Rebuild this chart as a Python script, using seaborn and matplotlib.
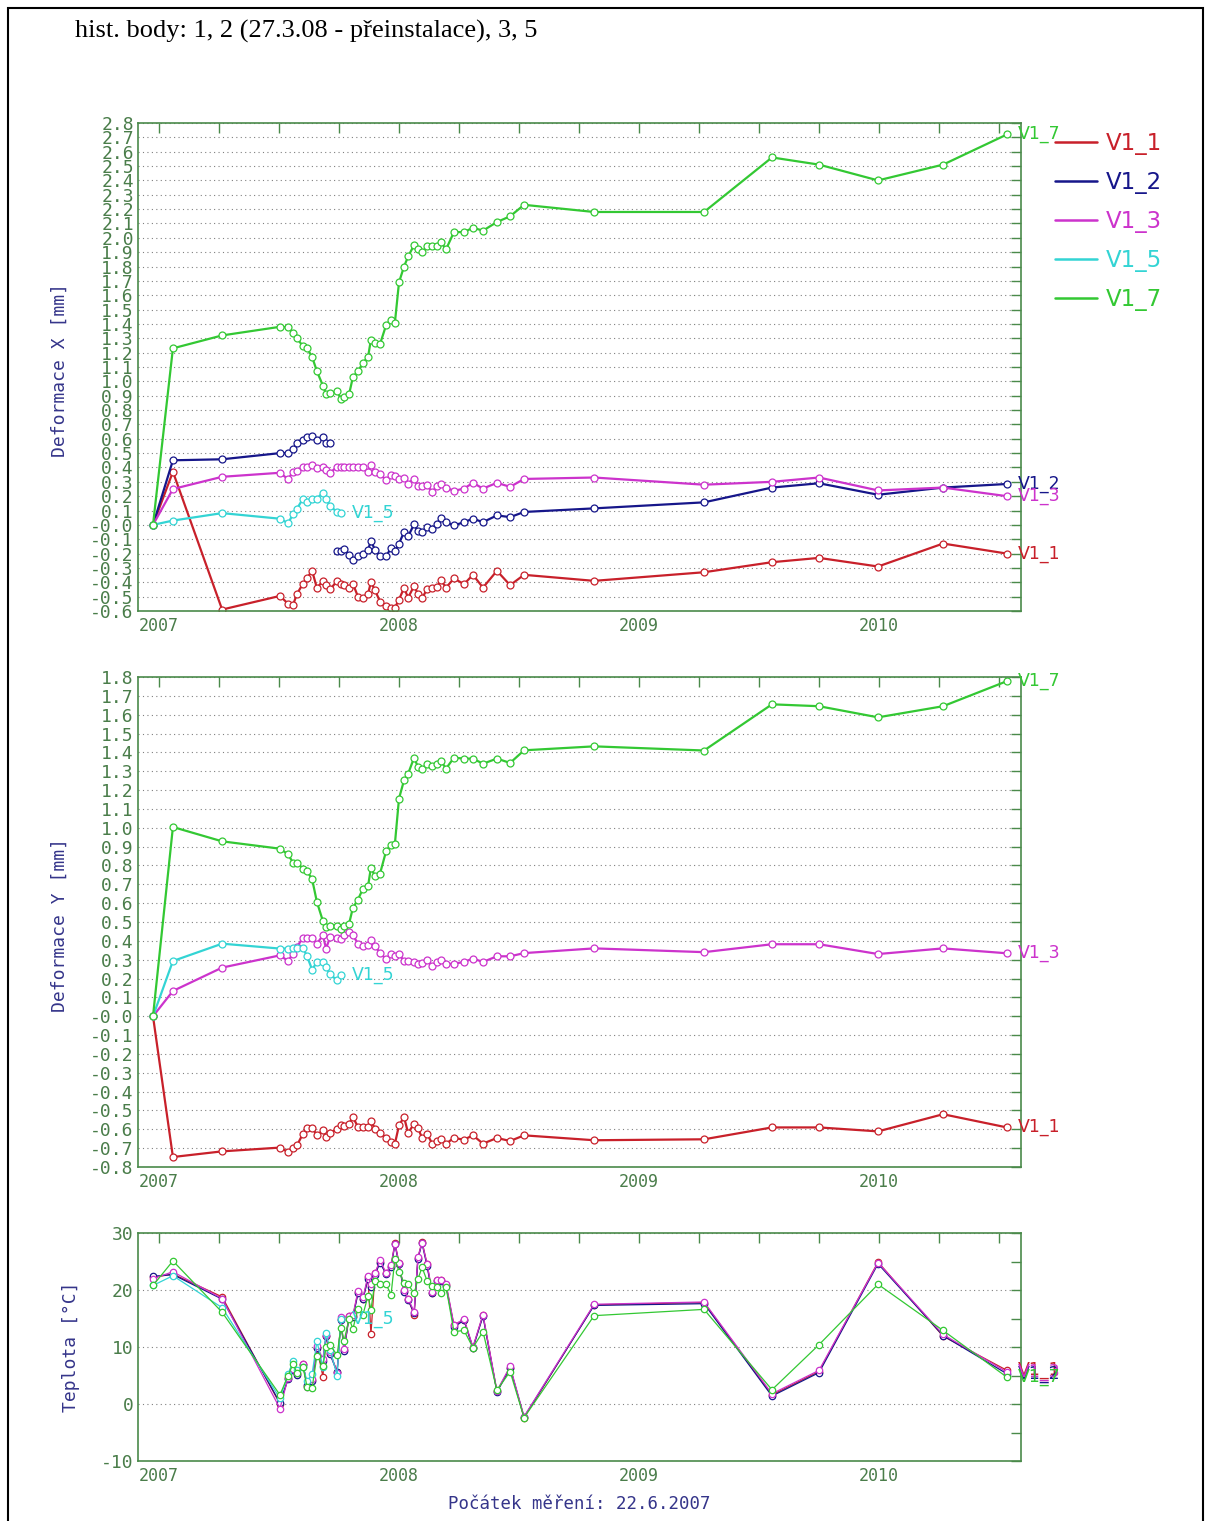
import matplotlib as mpl
mpl.use('Agg')
import matplotlib.pyplot as plt
from matplotlib.lines import Line2D
from matplotlib.patches import Rectangle
from matplotlib.ticker import MultipleLocator, FixedLocator, FuncFormatter
import numpy as np
import pandas as pd
import seaborn as sns

nan = np.nan

# reading times (decimal years on the plot's own axis)
t = [2006.975, 2007.058, 2007.263, 2007.504, 2007.538, 2007.558, 2007.575, 2007.600,
     2007.617, 2007.638, 2007.658, 2007.683, 2007.696, 2007.713, 2007.742, 2007.758,
     2007.771, 2007.792, 2007.808, 2007.829, 2007.850, 2007.871, 2007.883, 2007.900,
     2007.921, 2007.946, 2007.967, 2007.983, 2008.000, 2008.021, 2008.038, 2008.063,
     2008.079, 2008.096, 2008.117, 2008.138, 2008.158, 2008.175, 2008.196, 2008.229,
     2008.271, 2008.308, 2008.350, 2008.408, 2008.463, 2008.521, 2008.813, 2009.271,
     2009.554, 2009.750, 2009.996, 2010.267, 2010.533]

# V1_2 was reinstalled (27.3.08) -> line is broken here
V12_BREAK = 2007.73

# Deformace X [mm]
x_v11 = [0.00, 0.37, -0.59, -0.495, -0.55, -0.56, -0.48, -0.41,
         -0.37, -0.32, -0.44, -0.39, -0.42, -0.45, -0.39, -0.41,
         -0.42, -0.44, -0.41, -0.50, -0.51, -0.48, -0.40, -0.455,
         -0.535, -0.565, -0.577, -0.577, -0.52, -0.44, -0.507, -0.425,
         -0.483, -0.511, -0.448, -0.44, -0.432, -0.385, -0.437, -0.373,
         -0.413, -0.348, -0.437, -0.32, -0.42, -0.348, -0.39, -0.33,
         -0.26, -0.23, -0.29, -0.13, -0.20]
x_v12 = [0.00, 0.45, 0.457, 0.50, 0.50, 0.527, 0.568, 0.59,
         0.61, 0.62, 0.59, 0.61, 0.57, 0.57, -0.18, -0.18,
         -0.17, -0.21, -0.245, -0.22, -0.20, -0.175, -0.11, -0.175,
         -0.22, -0.22, -0.16, -0.18, -0.13, -0.05, -0.08, 0.005,
         -0.044, -0.05, -0.016, -0.027, 0.008, 0.047, 0.019, -0.004,
         0.019, 0.043, 0.019, 0.066, 0.054, 0.09, 0.115, 0.157,
         0.26, 0.29, 0.21, 0.26, 0.285]
x_v13 = [0.00, 0.25, 0.335, 0.363, 0.318, 0.37, 0.377, 0.40,
         0.405, 0.42, 0.393, 0.405, 0.382, 0.363, 0.405, 0.405,
         0.405, 0.405, 0.40, 0.405, 0.40, 0.37, 0.417, 0.37,
         0.356, 0.31, 0.35, 0.34, 0.323, 0.325, 0.288, 0.323,
         0.269, 0.27, 0.276, 0.23, 0.269, 0.288, 0.26, 0.237,
         0.253, 0.293, 0.253, 0.293, 0.265, 0.32, 0.33, 0.28,
         0.30, 0.33, 0.24, 0.26, 0.20]
x_v15 = [0.00, 0.03, 0.082, 0.043, 0.012, 0.073, 0.113, 0.183,
         0.16, 0.183, 0.183, 0.225, 0.183, 0.131, 0.09, 0.085] + [nan] * 37
x_v17 = [0.00, 1.23, 1.32, 1.38, 1.377, 1.335, 1.30, 1.244,
         1.23, 1.17, 1.07, 0.97, 0.91, 0.92, 0.93, 0.88,
         0.89, 0.91, 1.03, 1.07, 1.13, 1.17, 1.29, 1.27,
         1.26, 1.39, 1.43, 1.41, 1.69, 1.80, 1.87, 1.95,
         1.92, 1.90, 1.94, 1.94, 1.94, 1.97, 1.92, 2.04,
         2.04, 2.07, 2.05, 2.11, 2.15, 2.23, 2.18, 2.18,
         2.56, 2.51, 2.40, 2.51, 2.72]

# Deformace Y [mm]
y_v11 = [0.00, -0.747, -0.717, -0.697, -0.72, -0.70, -0.685, -0.623,
         -0.591, -0.591, -0.632, -0.605, -0.641, -0.62, -0.596, -0.579,
         -0.58, -0.57, -0.535, -0.588, -0.588, -0.588, -0.556, -0.596,
         -0.62, -0.644, -0.667, -0.676, -0.579, -0.535, -0.62, -0.57,
         -0.593, -0.646, -0.623, -0.676, -0.664, -0.65, -0.676, -0.646,
         -0.655, -0.632, -0.676, -0.646, -0.662, -0.632, -0.658, -0.653,
         -0.59, -0.59, -0.611, -0.52, -0.59]
y_v13 = [0.00, 0.134, 0.258, 0.323, 0.293, 0.332, 0.37, 0.415,
         0.417, 0.417, 0.385, 0.429, 0.359, 0.42, 0.417, 0.412,
         0.429, 0.447, 0.43, 0.385, 0.373, 0.38, 0.407, 0.371,
         0.337, 0.302, 0.329, 0.318, 0.332, 0.291, 0.291, 0.288,
         0.276, 0.285, 0.297, 0.267, 0.288, 0.297, 0.276, 0.279,
         0.288, 0.306, 0.288, 0.318, 0.318, 0.335, 0.36, 0.34,
         0.382, 0.382, 0.33, 0.36, 0.334]
y_v15 = [0.00, 0.293, 0.385, 0.359, 0.359, 0.364, 0.362, 0.362,
         0.318, 0.247, 0.288, 0.288, 0.261, 0.222, 0.191, 0.217] + [nan] * 37
y_v17 = [0.00, 1.004, 0.928, 0.889, 0.859, 0.815, 0.815, 0.783,
         0.77, 0.727, 0.606, 0.505, 0.473, 0.479, 0.479, 0.465,
         0.479, 0.491, 0.576, 0.619, 0.677, 0.689, 0.789, 0.742,
         0.757, 0.875, 0.907, 0.916, 1.155, 1.252, 1.287, 1.372,
         1.322, 1.31, 1.34, 1.33, 1.34, 1.354, 1.314, 1.372,
         1.367, 1.367, 1.34, 1.367, 1.344, 1.411, 1.432, 1.41,
         1.655, 1.645, 1.586, 1.645, 1.778]

# Teplota [°C]
t_v11 = [22.2, 22.8, 18.8, 0.0, 4.5, 6.0, 5.2, 7.0,
         3.1, 4.2, 9.9, 4.8, 11.9, 8.9, 5.7, 15.0,
         9.5, 15.4, 15.4, 19.6, 18.5, 22.2, 12.2, 22.9,
         25.0, 22.9, 24.2, 28.3, 24.7, 19.8, 18.4, 15.7,
         25.7, 28.5, 24.5, 19.5, 21.7, 21.7, 20.9, 13.8,
         14.8, 9.9, 15.6, 2.2, 6.4, -2.4, 17.4, 17.8,
         1.6, 5.7, 24.9, 11.9, 5.9]
t_v12 = [22.4, 22.7, 18.4, 0.2, 4.4, 5.9, 5.1, 6.9,
         3.3, 4.1, 9.8, 7.6, 11.9, 8.7, 5.6, 14.8,
         9.3, 15.3, 15.2, 19.4, 18.4, 22.0, 20.5, 22.7,
         24.8, 22.8, 24.0, 28.0, 24.5, 19.6, 18.3, 15.9,
         25.5, 28.2, 24.2, 19.4, 21.5, 21.6, 20.7, 13.5,
         14.7, 9.8, 15.4, 2.1, 6.3, -2.3, 17.3, 17.6,
         1.4, 5.5, 24.6, 12.0, 5.3]
t_v13 = [22.0, 23.2, 18.5, -0.8, 4.6, 6.2, 5.4, 7.1,
         3.0, 4.4, 10.2, 7.9, 12.1, 9.1, 5.5, 15.2,
         9.6, 15.5, 15.6, 19.8, 18.7, 22.5, 21.0, 23.0,
         25.2, 23.0, 24.4, 28.1, 24.8, 20.0, 18.5, 16.2,
         25.8, 28.3, 24.6, 19.7, 21.8, 21.8, 21.1, 13.9,
         14.9, 10.0, 15.7, 2.3, 6.6, -2.2, 17.5, 17.9,
         1.8, 5.9, 24.8, 12.2, 5.6]
t_v15 = [20.8, 22.5, 16.9, 1.0, 5.2, 7.5, 6.0, 6.5,
         4.0, 5.3, 11.0, 6.5, 12.5, 9.5, 5.0, 15.0] + [nan] * 37
t_v17 = [20.8, 25.1, 16.1, 1.6, 5.0, 7.0, 5.5, 6.5,
         3.0, 2.8, 8.5, 6.6, 10.0, 10.3, 8.6, 13.4,
         11.0, 15.0, 13.2, 16.7, 15.7, 19.0, 16.5, 21.5,
         21.0, 21.0, 19.2, 25.5, 23.2, 21.3, 21.0, 19.4,
         21.9, 24.0, 21.6, 20.7, 20.5, 19.5, 20.5, 12.7,
         12.9, 9.9, 12.7, 2.4, 5.7, -2.4, 15.5, 16.6,
         2.5, 10.4, 21.0, 12.9, 4.7]

SERIES = ['V1_1', 'V1_2', 'V1_3', 'V1_5', 'V1_7']
COLORS = {'V1_1': '#c8202a', 'V1_2': '#16168a', 'V1_3': '#cc33cc',
          'V1_5': '#33d4d4', 'V1_7': '#33c833'}

FRAME = '#4a8a4a'
TICKTXT = '#4a7d4a'
LABEL = '#35358a'
GRID = '#808080'


def draw_series(ax, name, values, lw, ms, split_at=None):
    c = COLORS[name]
    df = pd.DataFrame({'t': t, 'v': values})
    df['seg'] = 0
    if split_at is not None:
        df['seg'] = (df['t'] > split_at).astype(int)
    df = df.dropna()
    sns.lineplot(data=df, x='t', y='v', units='seg', estimator=None, sort=False,
                 color=c, linewidth=lw, marker='o', markersize=ms,
                 markerfacecolor='white', markeredgecolor=c, markeredgewidth=0.9,
                 legend=False, ax=ax)
    last = df.iloc[-1]
    ax.annotate(name, (last['t'], last['v']), xytext=(8, 0), textcoords='offset points',
                va='center', ha='left', color=c, fontsize=12.5, family='DejaVu Sans',
                annotation_clip=False)


def style_axis(ax, ylo, yhi, ystep, yminor=None, ygrid=True):
    ax.set_xlim(2006.9125, 2010.5917)
    ax.set_ylim(ylo, yhi)
    ax.xaxis.set_major_locator(MultipleLocator(0.25))
    ax.xaxis.set_major_formatter(FuncFormatter(
        lambda v, p: '%d' % round(v) if abs(v - round(v)) < 1e-6 else ''))
    ax.xaxis.set_minor_locator(FixedLocator([2007.5, 2008.5, 2009.5, 2010.5]))
    ax.yaxis.set_major_locator(MultipleLocator(ystep))
    if yminor:
        ax.yaxis.set_minor_locator(MultipleLocator(yminor))
    ax.tick_params(which='both', direction='in', top=True, right=True, length=7,
                   width=1, color=FRAME, labelcolor=TICKTXT, labelsize=12, pad=4)
    ax.tick_params(axis='y', labelsize=13, pad=3)
    ax.tick_params(axis='x', which='minor', length=0)
    ax.grid(False)
    ax.grid(which='minor', axis='x', color=GRID, linestyle=(0, (1, 3)), lw=0.8)
    if ygrid:
        ax.grid(which='major', axis='y', color=GRID, linestyle=(0, (1, 3)), lw=0.8)
    for sp in ax.spines.values():
        sp.set_color(FRAME)
        sp.set_linewidth(1.2)
    ax.set_xlabel('')


def dec_fmt(v, p):
    if abs(v) < 1e-9:
        return '-0.0'
    return '%.1f' % v


sns.set_style('white')
plt.rcParams['font.family'] = ['DejaVu Sans Mono', 'DejaVu Sans']

fig = plt.figure(figsize=(12.06, 15.21), dpi=100)
W, H = 1206.0, 1521.0


def add_ax(left, top, right, bottom):
    return fig.add_axes([left / W, 1 - bottom / H, (right - left) / W, (bottom - top) / H])


ax_x = add_ax(138, 123, 1021, 611)
ax_y = add_ax(138, 677, 1021, 1167)
ax_t = add_ax(138, 1233, 1021, 1461)

# panel 1: Deformace X
for name, vals in zip(SERIES, [x_v11, x_v12, x_v13, x_v15, x_v17]):
    draw_series(ax_x, name, vals, 1.6, 5, V12_BREAK if name == 'V1_2' else None)
style_axis(ax_x, -0.6, 2.8, 0.1)
ax_x.yaxis.set_major_formatter(FuncFormatter(dec_fmt))
ax_x.set_ylabel('Deformace X [mm]', color=LABEL, fontsize=13)
ax_x.yaxis.set_label_coords(-0.079, 0.494)

# panel 2: Deformace Y (no V1_2)
for name, vals in zip(['V1_1', 'V1_3', 'V1_5', 'V1_7'], [y_v11, y_v13, y_v15, y_v17]):
    draw_series(ax_y, name, vals, 1.6, 5)
style_axis(ax_y, -0.8, 1.8, 0.1)
ax_y.yaxis.set_major_formatter(FuncFormatter(dec_fmt))
ax_y.set_ylabel('Deformace Y [mm]', color=LABEL, fontsize=13)
ax_y.yaxis.set_label_coords(-0.079, 0.493)

# panel 3: Teplota
for name, vals in zip(SERIES, [t_v11, t_v12, t_v13, t_v15, t_v17]):
    draw_series(ax_t, name, vals, 0.9, 4.6)
style_axis(ax_t, -10, 30, 10, yminor=5)
ax_t.yaxis.set_major_formatter(FuncFormatter(lambda v, p: '%d' % round(v)))
ax_t.set_ylabel('Teplota [°C]', color=LABEL, fontsize=13)
ax_t.yaxis.set_label_coords(-0.066, 0.5)
ax_t.set_xlabel('Počátek měření: 22.6.2007', color=LABEL, fontsize=12.5)
ax_t.xaxis.set_label_coords(0.5, -0.15)

# legend to the right of the top panel
handles = [Line2D([], [], color=COLORS[s], lw=1.8) for s in SERIES]
leg = ax_x.legend(handles, SERIES, loc='upper left', bbox_to_anchor=(1.0385, 0.982),
                  frameon=False, prop={'family': 'DejaVu Sans', 'size': 16.5},
                  handlelength=1.85, handletextpad=0.35, labelspacing=0.7,
                  borderaxespad=0, borderpad=0)
for txt, s in zip(leg.get_texts(), SERIES):
    txt.set_color(COLORS[s])

fig.text(75 / W, 1 - 31 / H, 'hist. body: 1, 2 (27.3.08 - přeinstalace), 3, 5',
         family='Liberation Serif', fontsize=19, ha='left', va='center', color='black')

fig.add_artist(Rectangle((8 / W, -0.05), (1203 - 8) / W, 1 - 8 / H + 0.05,
                         transform=fig.transFigure, fill=False, edgecolor='black', lw=1.5))

fig.savefig('out.png', dpi=100)
